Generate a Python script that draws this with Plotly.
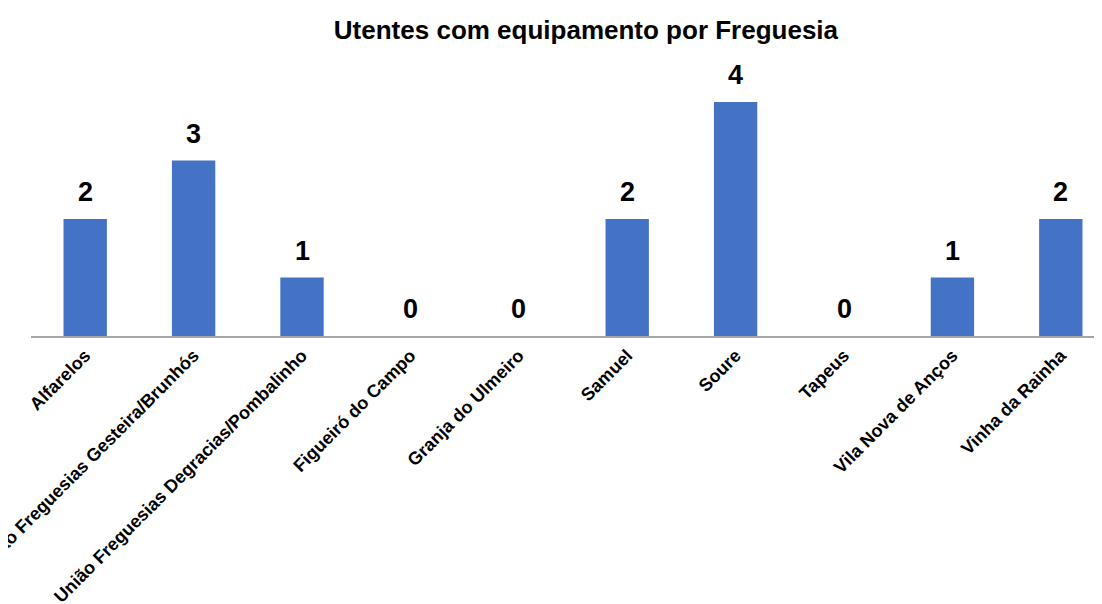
import plotly.graph_objects as go

categories = ["Alfarelos", "União Freguesias Gesteira/Brunhós",
              "União Freguesias Degracias/Pombalinho", "Figueiró do Campo",
              "Granja do Ulmeiro", "Samuel", "Soure", "Tapeus",
              "Vila Nova de Anços", "Vinha da Rainha"]
values = [2, 3, 1, 0, 0, 2, 4, 0, 1, 2]

FONT = "Liberation Sans"

fig = go.Figure()
fig.add_trace(go.Bar(x=list(range(len(categories))), y=values,
                     marker=dict(color="#4472C4", line=dict(width=0)),
                     width=0.4, hoverinfo="skip"))

for i, v in enumerate(values):
    fig.add_annotation(x=i, y=v, text=str(v), showarrow=False,
                       yanchor="bottom", yshift=10,
                       font=dict(family=FONT, size=27,
                                 color="black", weight="bold"))

fig.update_layout(
    width=1094, height=596,
    margin=dict(l=23, r=0, t=52, b=268),
    paper_bgcolor="white", plot_bgcolor="white",
    title=dict(text="Utentes com equipamento por Freguesia",
               x=0.5283, xanchor="center", y=0.9631, yanchor="middle",
               font=dict(family=FONT, size=26,
                         color="black", weight="bold")),
    showlegend=False,
    bargap=0.6,
)
fig.update_xaxes(range=[-0.5, 9.38], tickmode="array",
                 tickvals=list(range(len(categories))), ticktext=categories,
                 tickangle=-45, showline=True, linecolor="#a6a6a6",
                 linewidth=2, ticks="", showgrid=False, automargin=False,
                 ticklabeloverflow="allow",
                 tickfont=dict(family=FONT, size=18,
                               color="black", weight="bold"))
fig.update_yaxes(range=[0, 4.72], visible=False, showgrid=False)

fig.write_html("out.html")
